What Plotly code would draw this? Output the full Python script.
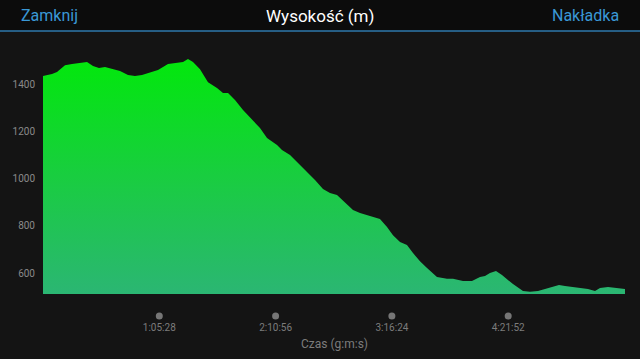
import plotly.graph_objects as go

# elapsed time (s) and elevation (m)
time_s = [0, 304, 473, 743, 980, 1351, 1486, 1689, 1891, 2094, 2330, 2601, 2871, 3107,
          3344, 3614, 3884, 4222, 4526, 4729, 4897, 5066, 5303, 5573, 5877, 6080, 6249,
          6485, 6755, 7059, 7329, 7566, 7904, 8072, 8343, 8613, 8917, 9187, 9457, 9693,
          9930, 10200, 10470, 10707, 11044, 11382, 11619, 11821, 12058, 12294, 12497,
          12733, 12970, 13307, 13645, 13848, 14186, 14489, 14760, 14929, 15097, 15300,
          15503, 15874, 16212, 16448, 16719, 17023, 17225, 17428, 17631, 17867, 18137,
          18407, 18644, 18813, 19083, 19387, 19657]
elev_m = [1434, 1442, 1451, 1480, 1485, 1489, 1493, 1476, 1468, 1472, 1463, 1455, 1438, 1434,
          1438, 1447, 1459, 1485, 1489, 1493, 1506, 1493, 1463, 1408, 1383, 1362, 1362,
          1332, 1290, 1248, 1214, 1172, 1142, 1121, 1100, 1066, 1028, 994, 956, 939,
          931, 901, 867, 855, 842, 829, 795, 761, 732, 719, 685,
          651, 622, 584, 576, 576, 567, 567, 584, 588, 601, 609,
          592, 554, 525, 521, 525, 537, 542, 550, 546, 542, 537,
          533, 525, 537, 542, 537, 533]

x_tick_vals = [3928, 7856, 11784, 15712]
x_tick_text = ["1:05:28", "2:10:56", "3:16:24", "4:21:52"]
y_tick_vals = [600, 800, 1000, 1200, 1400]

title_text = "Wysokość (m)"
left_btn = "Zamknij"
right_btn = "Nakładka"
x_title = "Czas (g:m:s)"

Y0, Y1 = 512, 1544
X0, X1 = 0, 19691

fig = go.Figure()
fig.add_trace(go.Scatter(
    x=time_s, y=elev_m, mode="lines", fill="tozeroy",
    line=dict(width=0, color="#10e020"),
    fillgradient=dict(type="vertical", start=Y0, stop=1506,
                      colorscale=[[0, "#2bb673"], [0.5, "#19cd40"], [1, "#02e80c"]]),
    hoverinfo="skip", showlegend=False,
))

H = 244.0
def py(p):
    return (294 - p) / H

shapes = [
    dict(type="rect", xref="paper", yref="paper", x0=-1, x1=2, y0=py(31), y1=py(-5),
         fillcolor="#0c0c0c", line=dict(width=0), layer="below"),
    dict(type="line", xref="paper", yref="paper", x0=-1, x1=2, y0=py(31), y1=py(31),
         line=dict(color="#2e78ad", width=1.5)),
]
# tick dots below the plot, positioned by the x axis scale
for v in x_tick_vals:
    shapes.append(dict(type="circle", xref="x", yref="paper",
                       xsizemode="pixel", ysizemode="pixel",
                       xanchor=v, yanchor=py(316),
                       x0=-3.5, x1=3.5, y0=-3.5, y1=3.5,
                       fillcolor="#767676", line=dict(width=0)))

fig.update_layout(
    width=640, height=359,
    margin=dict(l=43, r=14, t=50, b=65),
    paper_bgcolor="#141414", plot_bgcolor="#141414",
    font=dict(family="Roboto, Liberation Sans, sans-serif", color="#8a8a8a", size=10),
    xaxis=dict(range=[X0, X1], showgrid=False, zeroline=False, showline=False,
               tickvals=x_tick_vals, ticktext=x_tick_text, ticks="",
               ticklabelstandoff=26, tickfont=dict(size=10, color="#7c7c7c")),
    yaxis=dict(range=[Y0, Y1], showgrid=False, zeroline=False, showline=False,
               tickvals=y_tick_vals, ticks="", ticklabelstandoff=7,
               tickfont=dict(size=10, color="#8a8a8a")),
    shapes=shapes,
    annotations=[
        dict(text=title_text, xref="paper", yref="paper", x=(320 - 43) / 583, y=py(16),
             xanchor="center", yanchor="middle", showarrow=False,
             font=dict(size=17, color="#ffffff")),
        dict(text=left_btn, xref="paper", yref="paper", x=(19 - 43) / 583, y=py(16),
             xanchor="left", yanchor="middle", showarrow=False,
             font=dict(size=16, color="#3a98d6")),
        dict(text=right_btn, xref="paper", yref="paper", x=(621 - 43) / 583, y=py(16),
             xanchor="right", yanchor="middle", showarrow=False,
             font=dict(size=16, color="#3a98d6")),
        dict(text=x_title, xref="paper", yref="paper", x=0.5, y=py(344),
             xanchor="center", yanchor="middle", showarrow=False,
             font=dict(size=12, color="#7c7c7c")),
    ],
)

fig.write_html("out.html")
